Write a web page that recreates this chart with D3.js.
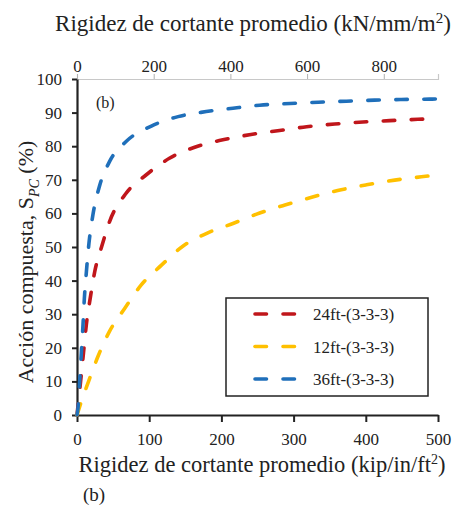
<!DOCTYPE html>
<html>
<head>
<meta charset="utf-8">
<script src="https://cdn.jsdelivr.net/npm/d3@7"></script>
<style>
  body { margin: 0; background: #fff; }
</style>
</head>
<body>
<div id="chart"></div>
<script>
// series: x in kip/in/ft2, y in %
const redX = [0, 5, 9, 13, 18.5, 24.5, 34, 45, 68, 96, 128, 163, 202, 241, 278, 318, 357, 396, 433, 472, 500];
const redY = [0, 10, 18.5, 27, 35, 42.6, 50, 57.5, 66, 71.5, 76.4, 79.7, 81.9, 83.5, 84.6, 85.8, 86.6, 87.2, 87.6, 88.0, 88.3];

const yellowX = [0, 3.7, 15, 29, 45, 66, 89, 117, 147, 179, 216, 253, 288, 325, 361, 401, 440, 477, 500];
const yellowY = [0, 2.5, 9.4, 17.4, 24.9, 31.7, 38.7, 44.6, 50.3, 54, 57, 60.1, 62.5, 64.8, 66.8, 68.5, 69.9, 70.9, 71.5];

const blueX = [0, 1.4, 3.7, 6, 8.3, 10.2, 13, 16.5, 22, 31, 45, 68, 103, 140, 179, 216, 253, 295, 334, 373, 412, 449, 488, 500];
const blueY = [0, 2, 10, 18.4, 26.8, 34.7, 42.6, 51, 59.5, 68, 75.4, 81.4, 86, 88.8, 90.3, 91.3, 92.2, 92.7, 93.1, 93.4, 93.7, 93.9, 94.0, 94.1];

const seriesNames = ["24ft-(3-3-3)", "12ft-(3-3-3)", "36ft-(3-3-3)"];
const seriesColors = ["#C0161B", "#FFC000", "#1F6FBA"];

const xTicks = [0, 100, 200, 300, 400, 500];
const yTicks = [0, 10, 20, 30, 40, 50, 60, 70, 80, 90, 100];
const topTicks = [0, 200, 400, 600, 800];
const kipToKN = 1.8827; // 1 kip/in/ft2 in kN/mm/m2

const FONT = "Liberation Serif";
const INK = "#222";

const width = 453, height = 508;
const margin = { top: 79, right: 15, bottom: 93, left: 77 };

const svg = d3.select("#chart").append("svg")
  .attr("width", width)
  .attr("height", height)
  .attr("font-family", FONT);

const x = d3.scaleLinear().domain([0, 500]).range([margin.left, width - margin.right]);
const xTop = d3.scaleLinear().domain([0, 500 * kipToKN]).range([margin.left, width - margin.right]);
const y = d3.scaleLinear().domain([0, 100]).range([height - margin.bottom, margin.top]);

function styleTicks(g) {
  g.attr("font-family", FONT).attr("font-size", 17);
  g.selectAll("text").attr("fill", INK);
}

// top axis (gray)
const topG = svg.append("g")
  .attr("transform", `translate(0,${margin.top})`)
  .call(d3.axisTop(xTop).tickValues(topTicks).tickSize(5).tickPadding(2))
  .call(styleTicks);
topG.select(".domain").attr("stroke", "#c8c8c8").attr("stroke-width", 1.2);
topG.selectAll(".tick line").attr("stroke", "#b0b0b0");

// bottom axis
const botG = svg.append("g")
  .attr("transform", `translate(0,${height - margin.bottom})`)
  .call(d3.axisBottom(x).tickValues(xTicks).tickSize(7).tickSizeOuter(0).tickPadding(11))
  .call(styleTicks);
botG.select(".domain").attr("stroke", INK).attr("stroke-width", 2.2);
botG.selectAll(".tick line").attr("stroke", INK).attr("stroke-width", 2);

// left axis
const leftG = svg.append("g")
  .attr("transform", `translate(${margin.left},0)`)
  .call(d3.axisLeft(y).tickValues(yTicks).tickSize(5).tickSizeOuter(0).tickPadding(10))
  .call(styleTicks);
leftG.select(".domain").attr("stroke", INK).attr("stroke-width", 2.2);
leftG.selectAll(".tick line").attr("stroke", INK).attr("stroke-width", 2);

const series = [
  { xs: redX, ys: redY },
  { xs: yellowX, ys: yellowY },
  { xs: blueX, ys: blueY }
];

const line = d3.line()
  .x(d => x(d[0]))
  .y(d => y(d[1]))
  .curve(d3.curveMonotoneX);

series.forEach((s, i) => {
  const pts = s.xs.map((v, j) => [v, s.ys[j]]);
  svg.append("path")
    .datum(pts)
    .attr("fill", "none")
    .attr("stroke", seriesColors[i])
    .attr("stroke-width", 3.6)
    .attr("stroke-linecap", "round")
    .attr("stroke-dasharray", "11.5,16.5")
    .attr("d", line);
});

// inner panel tag
svg.append("text")
  .attr("x", 96).attr("y", 108)
  .attr("font-size", 16)
  .attr("fill", INK)
  .text("(b)");

// legend
const legend = svg.append("g").attr("transform", "translate(226,298)");
legend.append("rect")
  .attr("width", 202).attr("height", 98)
  .attr("fill", "#fff")
  .attr("stroke", INK).attr("stroke-width", 1.5);
seriesNames.forEach((name, i) => {
  const ly = 16 + i * 32.5;
  legend.append("line")
    .attr("x1", 29).attr("x2", 70)
    .attr("y1", ly).attr("y2", ly)
    .attr("stroke", seriesColors[i])
    .attr("stroke-width", 3.6)
    .attr("stroke-linecap", "round")
    .attr("stroke-dasharray", "11.5,16.5");
  legend.append("text")
    .attr("x", 87).attr("y", ly + 6)
    .attr("font-size", 17)
    .attr("fill", INK)
    .text(name);
});

// titles
const topTitle = svg.append("text")
  .attr("x", 253).attr("y", 31)
  .attr("text-anchor", "middle")
  .attr("font-size", 23)
  .attr("fill", INK)
  .text("Rigidez de cortante promedio (kN/mm/m");
topTitle.append("tspan").attr("font-size", 15).attr("dy", -8).text("2");
topTitle.append("tspan").attr("dy", 8).text(")");

const botTitle = svg.append("text")
  .attr("x", 262).attr("y", 472)
  .attr("text-anchor", "middle")
  .attr("font-size", 22.5)
  .attr("fill", INK)
  .text("Rigidez de cortante promedio (kip/in/ft");
botTitle.append("tspan").attr("font-size", 14).attr("dy", -8).text("2");
botTitle.append("tspan").attr("dy", 8).text(")");

svg.append("text")
  .attr("x", 83).attr("y", 501)
  .attr("font-size", 19)
  .attr("fill", INK)
  .text("(b)");

const yTitle = svg.append("text")
  .attr("transform", "translate(33,262) rotate(-90)")
  .attr("text-anchor", "middle")
  .attr("font-size", 22)
  .attr("fill", INK)
  .text("Acción compuesta, S");
yTitle.append("tspan").attr("font-size", 14).attr("font-style", "italic").attr("dy", 6).text("PC");
yTitle.append("tspan").attr("dy", -6).text(" (%)");
</script>
</body>
</html>
